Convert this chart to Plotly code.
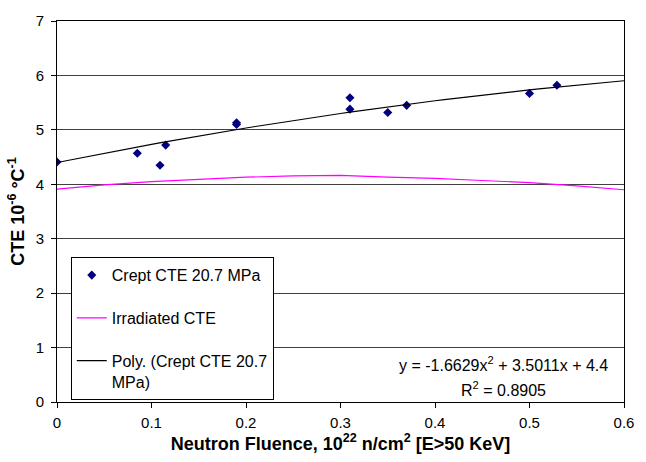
import numpy as np
import plotly.graph_objects as go

# Crept CTE data points
crept_x = [0.0, 0.085, 0.109, 0.115, 0.190, 0.190, 0.310, 0.310, 0.350, 0.370, 0.500, 0.529]
crept_y = [4.41, 4.57, 4.35, 4.72, 5.13, 5.10, 5.59, 5.38, 5.32, 5.45, 5.67, 5.82]

# Irradiated CTE curve
irr_x = [0.0, 0.05, 0.10, 0.15, 0.20, 0.25, 0.30, 0.35, 0.40, 0.45, 0.50, 0.55, 0.60]
irr_y = [3.91, 3.99, 4.05, 4.09, 4.13, 4.155, 4.165, 4.13, 4.11, 4.07, 4.03, 3.97, 3.90]

# Polynomial trendline coefficients (as printed on chart)
poly_coeffs = [-1.6629, 3.5011, 4.4]
r_squared = 0.8905

x_ticks = [0, 0.1, 0.2, 0.3, 0.4, 0.5, 0.6]
x_tick_labels = ["0", "0.1", "0.2", "0.3", "0.4", "0.5", "0.6"]
y_ticks = [0, 1, 2, 3, 4, 5, 6, 7]

fit_x = np.linspace(0, 0.6, 61)
fit_y = np.polyval(poly_coeffs, fit_x)

FONT = "Liberation Sans, Arial, sans-serif"

fig = go.Figure()
fig.add_trace(go.Scatter(
    x=crept_x, y=crept_y, mode="markers", name="Crept CTE 20.7 MPa",
    marker=dict(symbol="diamond", size=7, color="#000080"),
    legendgroup="a"))
fig.add_trace(go.Scatter(
    x=irr_x, y=irr_y, mode="lines", name="Irradiated CTE",
    line=dict(color="#FF00FF", width=1.2), legendgroup="b"))
fig.add_trace(go.Scatter(
    x=fit_x, y=fit_y, mode="lines", name="Poly. (Crept CTE 20.7<br>MPa)",
    line=dict(color="black", width=1.2), legendgroup="c"))

fig.update_layout(
    width=646, height=462,
    margin=dict(l=57, r=12, t=14, b=57),
    paper_bgcolor="white", plot_bgcolor="white",
    font=dict(family=FONT, size=15, color="black"),
    showlegend=True,
    legend=dict(x=0.0243, y=0.380, xanchor="left", yanchor="top",
                bgcolor="white", bordercolor="black", borderwidth=1,
                font=dict(size=16), tracegroupgap=19,
                itemwidth=30, valign="top"),
    xaxis=dict(range=[0, 0.6], tickvals=x_ticks, ticktext=x_tick_labels,
               showgrid=False, showline=True, linecolor="black", linewidth=1,
               mirror=True, ticks="outside", ticklen=5, tickcolor="black",
               zeroline=False, ticklabelstandoff=2,
               title=dict(text="<b>Neutron Fluence, 10<sup>22</sup> n/cm<sup>2</sup> [E>50 KeV]</b>",
                          font=dict(size=18), standoff=6)),
    yaxis=dict(range=[0, 7], tickvals=y_ticks,
               showgrid=True, gridcolor="#404040", gridwidth=1,
               showline=True, linecolor="black", linewidth=1,
               mirror=True, ticks="outside", ticklen=5, tickcolor="black",
               zeroline=False, ticklabelstandoff=4,
               title=dict(text="<b>CTE 10<sup>-6</sup> °C<sup>-1</sup></b>",
                          font=dict(size=18), standoff=6)),
)

fig.add_annotation(
    x=0.473, y=0.69, xref="x", yref="y",
    text=f"y = {poly_coeffs[0]}x<sup>2</sup> + {poly_coeffs[1]}x + {poly_coeffs[2]}",
    showarrow=False, font=dict(size=16), xanchor="center", yanchor="middle")
fig.add_annotation(
    x=0.473, y=0.242, xref="x", yref="y",
    text=f"R<sup>2</sup> = {r_squared}",
    showarrow=False, font=dict(size=16), xanchor="center", yanchor="middle")

fig.write_html("out.html")
